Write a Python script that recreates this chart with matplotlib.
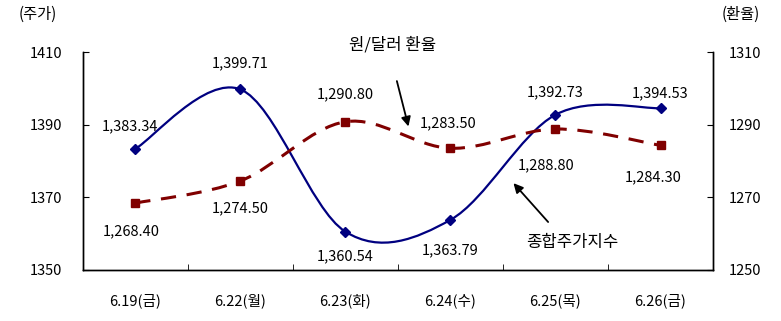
import matplotlib
matplotlib.use("Agg")
import matplotlib.pyplot as plt
import numpy as np
from matplotlib.path import Path
from matplotlib.patches import PathPatch

plt.rcParams["font.family"] = ["Noto Sans CJK KR", "DejaVu Sans"]

# Daily values
dates = ["6.19(금)", "6.22(월)", "6.23(화)", "6.24(수)", "6.25(목)", "6.26(금)"]
kospi = [1383.34, 1399.71, 1360.54, 1363.79, 1392.73, 1394.53]
krw_usd = [1268.40, 1274.50, 1290.80, 1283.50, 1288.80, 1284.30]

# label offsets in points (dx, dy) for each point label
kospi_offsets = [(-4, 16), (0, 19), (0, -18), (0, -22), (0, 16), (0, 11)]
fx_offsets = [(-3, -20), (0, -20), (0, 20), (-2, 18), (-7, -26), (-5, -23)]


def smooth_path(xs, ys):
    """Catmull-Rom style Bezier curve through the points (Excel-like smoothing)."""
    pts = np.column_stack([xs, ys]).astype(float)
    n = len(pts)
    verts = [pts[0]]
    codes = [Path.MOVETO]
    for i in range(n - 1):
        p0 = pts[i - 1] if i > 0 else pts[i]
        p1 = pts[i]
        p2 = pts[i + 1]
        p3 = pts[i + 2] if i + 2 < n else pts[i + 1]
        c1 = p1 + (p2 - p0) / 6.0
        c2 = p2 - (p3 - p1) / 6.0
        verts += [c1, c2, p2]
        codes += [Path.CURVE4] * 3
    return Path(verts, codes)


fig = plt.figure(figsize=(7.81, 3.21), dpi=100)
ax = fig.add_axes([0.106, 0.159, 0.807, 0.679])
ax2 = ax.twinx()

x = np.arange(len(dates))
navy = "#000080"
maroon = "#800000"

# stock index (left axis)
ax.add_patch(PathPatch(smooth_path(x, kospi), fill=False, edgecolor=navy, lw=1.6))
ax.plot(x, kospi, ls="none", marker="D", ms=5, color=navy)
for xi, v, (dx, dy) in zip(x, kospi, kospi_offsets):
    ax.annotate(f"{v:,.2f}", (xi, v), xytext=(dx, dy), textcoords="offset points",
                ha="center", va="center", fontsize=10.5)

# exchange rate (right axis)
ax2.add_patch(PathPatch(smooth_path(x, krw_usd), fill=False, edgecolor=maroon,
                        lw=2.2, linestyle=(0, (5, 3.5))))
ax2.plot(x, krw_usd, ls="none", marker="s", ms=5.5, color=maroon)
for xi, v, (dx, dy) in zip(x, krw_usd, fx_offsets):
    ax2.annotate(f"{v:,.2f}", (xi, v), xytext=(dx, dy), textcoords="offset points",
                 ha="center", va="center", fontsize=10.5)

ax.set_xlim(-0.5, 5.5)
ax.set_ylim(1350, 1410)
ax2.set_ylim(1250, 1310)
ax.set_yticks([1350, 1370, 1390, 1410])
ax2.set_yticks([1250, 1270, 1290, 1310])
ax.set_xticks(x)
ax.set_xticklabels(dates, fontsize=10.5)
ax.set_xticks(np.arange(0.5, 5, 1), minor=True)
ax.tick_params(axis="x", which="major", length=0, pad=17)
ax.tick_params(axis="x", which="minor", direction="in", length=4)
ax.tick_params(axis="y", direction="in", length=4, labelsize=10.5, pad=15)
ax2.tick_params(axis="y", direction="in", length=4, labelsize=10.5, pad=11)

for a in (ax, ax2):
    a.spines["top"].set_visible(False)
    for s in ("left", "right", "bottom"):
        a.spines[s].set_linewidth(1.0)

# axis unit labels
fig.text(0.048, 0.955, "(주가)", fontsize=11, ha="center", va="center")
fig.text(0.948, 0.955, "(환율)", fontsize=11, ha="center", va="center")

# series callouts
arrow = dict(arrowstyle="-|>", color="black", lw=1.3, mutation_scale=14,
             shrinkA=0, shrinkB=0)
ax.text(2.45, 1412.0, "원/달러 환율", ha="center", va="center", fontsize=12)
ax.annotate("", xy=(2.6, 1389.5), xytext=(2.49, 1402.0), arrowprops=arrow,
            annotation_clip=False)
ax.text(4.16, 1357.6, "종합주가지수", ha="center", va="center", fontsize=12)
ax.annotate("", xy=(3.6, 1373.9), xytext=(3.93, 1363.2), arrowprops=arrow)

fig.savefig("out.png", dpi=100)
